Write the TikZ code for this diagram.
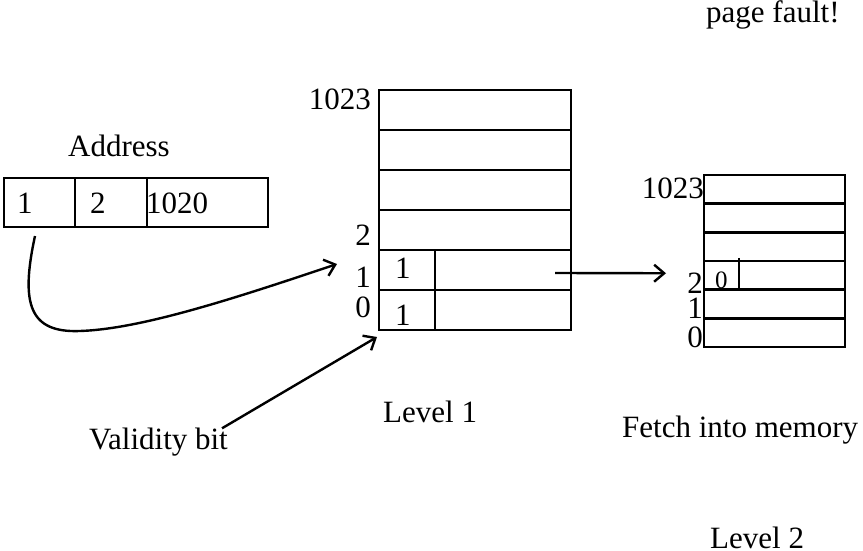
\documentclass[tikz,border=0pt]{standalone}
\usepackage{fontspec}
\setmainfont{Liberation Serif}
\usetikzlibrary{arrows.meta,positioning}

\tikzset{
  cell/.style={draw, line width=2.6pt, inner sep=0pt, outer sep=0pt},
  txt/.style={inner sep=0pt, font=\fontsize{31}{36}\selectfont},
  small/.style={inner sep=0pt, font=\fontsize{25}{30}\selectfont},
  ptr/.style={line width=2.4pt, -{Straight Barb[length=10pt,width=17pt]}}
}

\begin{document}
\begin{tikzpicture}[x=1pt,y=-1pt]
\useasboundingbox (0,0) rectangle (863,551);

% address
\node[cell, minimum width=71pt, minimum height=49pt] (a1) at (39.5,202.5) {};
\node[cell, minimum width=72pt, minimum height=49pt, right=0pt of a1] (a2) {};
\node[cell, minimum width=121pt, minimum height=49pt, right=0pt of a2] (a3) {};
\node[txt, anchor=base west] (adigA) at (17,213) {1};
\node[txt, anchor=base west] (adigB) at (90,213) {2};
\node[txt, anchor=base west] (adigC) at (146,213) {1020};
\node[txt, anchor=base west] (addrlbl) at (68,157) {Address};

% level 1
\foreach \i in {0,...,5}
  \node[cell, minimum width=192pt, minimum height=40pt] (p\i) at (475,{310-40*\i}) {};
\draw[line width=2.6pt] ([xshift=56pt]p1.north west) -- ([xshift=56pt]p0.south west);
\node[txt, anchor=base west] (pbitA) at (395,278) {1};
\node[txt, anchor=base west] (pbitB) at (395,325) {1};
\node[txt, anchor=base east] (pidx5) at (371,110) {1023};
\node[txt, anchor=base east] (pidx2) at (371,245) {2};
\node[txt, anchor=base east] (pidx1) at (371,287) {1};
\node[txt, anchor=base east] (pidx0) at (371,317) {0};
\node[txt, anchor=base west] (lvlone) at (383,422) {Level 1};

% level 2
\foreach \i in {0,...,5}
  \node[cell, minimum width=141pt, minimum height=28.7pt] (q\i) at (774.5,{332.65-28.7*\i}) {};
\draw[line width=2.6pt] ([xshift=35pt,yshift=3pt]q2.north west) -- ([xshift=35pt]q2.south west);
\node[small, anchor=base west] (qbit) at (715,288) {0};
\node[txt, anchor=base east] (qidx5) at (704,198) {1023};
\node[txt, anchor=base east] (qidx2) at (703,293) {2};
\node[txt, anchor=base east] (qidx1) at (703,318) {1};
\node[txt, anchor=base east] (qidx0) at (703,347) {0};
\node[txt, anchor=base west] (lvltwo) at (710,548) {Level 2};

\node[txt, anchor=base west] (fault) at (706,23) {page fault!};
\node[txt, anchor=base west] (fetch) at (622,437) {Fetch into memory};
\node[txt, anchor=base west] (validity) at (89,449) {Validity bit};

% arrows
\draw[ptr] ([xshift=-4.5pt,yshift=-9pt]a1.south) .. controls (20,305) and (30,333) .. (80,331)
  .. controls (140,329) and (230,300) .. ([xshift=-42pt,yshift=6pt]p1.west);
\draw[ptr] ([xshift=-16pt,yshift=-3pt]p1.east) -- ([xshift=-38pt,yshift=2pt]q2.west);
\draw[ptr] ([xshift=-6pt,yshift=-1pt]validity.north east) -- ([xshift=-2pt,yshift=-7pt]p0.south west);

\end{tikzpicture}
\end{document}
